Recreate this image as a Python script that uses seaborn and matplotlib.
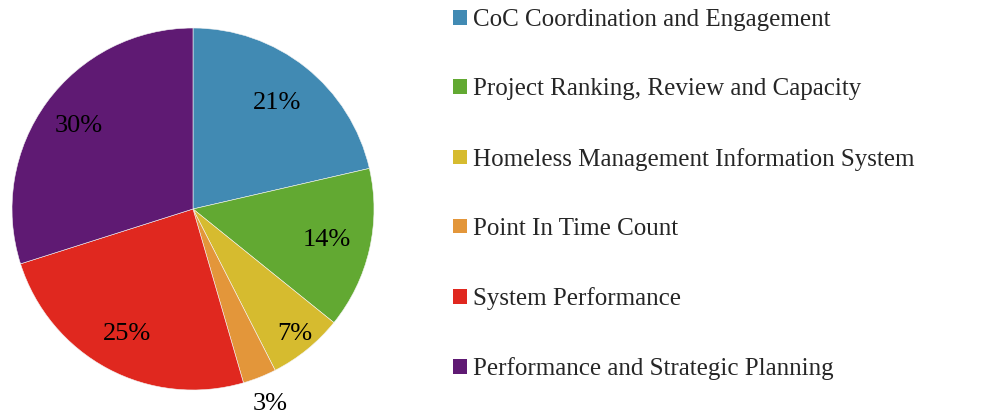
import matplotlib
matplotlib.use("Agg")
import matplotlib.pyplot as plt
import seaborn as sns
import numpy as np
from matplotlib.patches import Patch

categories = [
    "CoC Coordination and Engagement",
    "Project Ranking, Review and Capacity",
    "Homeless Management Information System",
    "Point In Time Count",
    "System Performance",
    "Performance and Strategic Planning",
]
values = [21.4, 14.4, 6.7, 3.0, 24.6, 29.9]
colors = ["#418AB3", "#62A932", "#D6BB2F", "#E3963A", "#E0281F", "#5F1A73"]
label_dist = [0.745, 0.76, 0.89, 1.16, 0.78, 0.78]

sns.set_theme(style="white")
plt.rcParams["font.family"] = ["Liberation Serif", "DejaVu Serif"]

fig = plt.figure(figsize=(10.03, 4.16), dpi=100)
ax = fig.add_axes([12 / 1003, 26 / 416, 362 / 1003, 362 / 416])

wedges, _ = ax.pie(values, colors=colors, startangle=90, counterclock=False,
                   radius=1.0, wedgeprops=dict(linewidth=0.4, edgecolor="#f4f4f4"))
total = sum(values)
for w, v, d in zip(wedges, values, label_dist):
    ang = np.deg2rad((w.theta1 + w.theta2) / 2)
    ax.text(d * np.cos(ang), d * np.sin(ang), f"{round(100 * v / total)}%",
            ha="center", va="center", fontsize=19, color="black")
ax.set_xlim(-1, 1)
ax.set_ylim(-1, 1)
ax.set_aspect("equal")
ax.axis("off")

handles = [Patch(facecolor=c, edgecolor="none") for c in colors]
fig.legend(handles, categories, loc="upper left", bbox_to_anchor=(444 / 1003, 1.0),
           frameon=False, fontsize=18, labelspacing=1.89, handlelength=0.56,
           handleheight=0.52, handletextpad=0.24, borderaxespad=0.0, borderpad=0.37)

fig.savefig("out.png", dpi=100)
